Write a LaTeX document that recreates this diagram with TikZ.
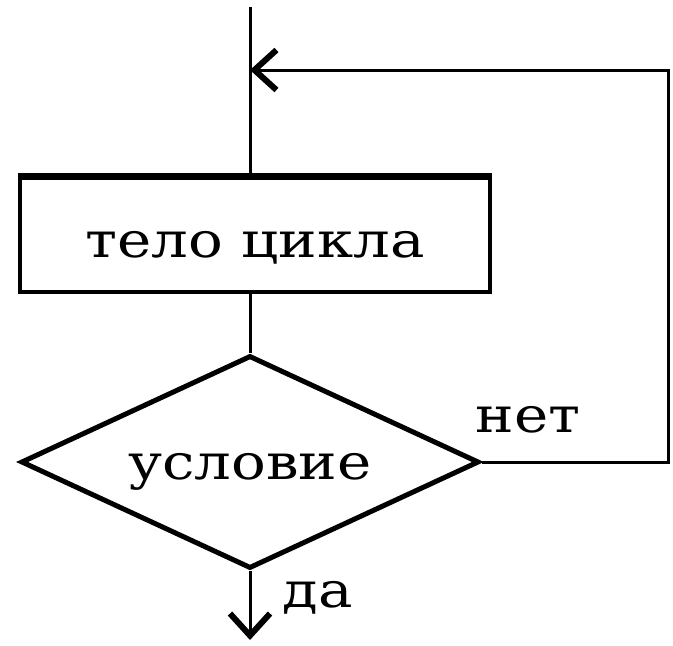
\documentclass[tikz,border=0pt]{standalone}
\usepackage{fontspec}
\setmainfont[FakeStretch=1.18]{DejaVu Serif}
\usetikzlibrary{positioning, calc, arrows.meta, shapes.geometric}

\begin{document}
\begin{tikzpicture}[x=1pt, y=-1pt, font=\fontsize{49}{56}\selectfont,
		flow/.style={line width=3pt},
		barb/.style={-{Straight Barb[length=22pt, width=40pt, line width=6pt]}}]
		\useasboundingbox (0, 0) rectangle (673, 646);
		\node[draw, line width=3.5pt, minimum width=470pt, minimum height=114pt, inner sep=0pt, text height=46pt, text depth=2pt] (body) at (255, 235) {тело цикла};
		\draw[line width=6pt] (body.north west) -- (body.north east);
		\node[draw, diamond, line width=5pt, aspect=2.15, minimum width=458pt, minimum height=213pt, inner sep=0pt, text height=36pt, text depth=2pt] (cond) at (250, 462) {условие};
		\coordinate (top) at (250, 7);
		\coordinate (entry) at (250, 70);
		\coordinate (loopR) at (668, 462);
		\coordinate (loopT) at (668, 70);
		\coordinate (out) at (250, 640);
		\draw[flow] (top) -- (body.north -| top);
		\draw[flow] (body.south -| top) -- (cond.north);
		\draw[flow] (cond.east) -- (loopR) -- (loopT) -- (entry);
		\draw[flow, barb] (loopT) ++(-360, 0) -- (entry);
		\draw[flow, barb] (cond.south) -- (out);
		\node at (528, 420) (no) {нет};
		\node at (318, 598) (yes) {да};
	\end{tikzpicture}
\end{document}
